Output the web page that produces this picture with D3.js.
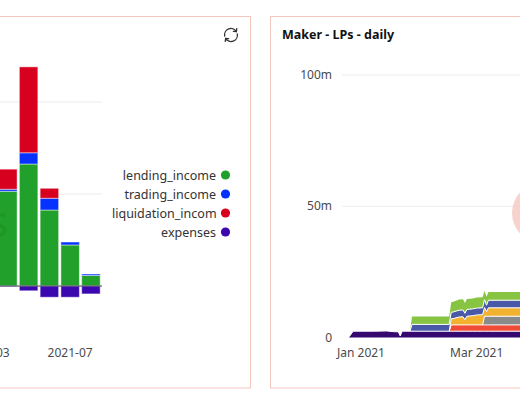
<!DOCTYPE html>
<html><head><meta charset="utf-8">
<script src="https://cdn.jsdelivr.net/npm/d3@7"></script>
<style>
body{margin:0;background:#fff;}
svg{display:block;font-family:"Noto Sans",sans-serif;}
</style>
</head><body>
<svg id="c" width="520" height="400"></svg>
<script>
// ---------- left panel: monthly revenue (stacked bars) ----------
const months = ["2021-03","2021-04","2021-05","2021-06","2021-07","2021-08"];
const monthTicks = ["2021-03","2021-07"];
const lendingIncome     = [4.6, 5.15, 6.63, 4.13, 2.23, 0.57];
const tradingIncome     = [0.1, 0.11, 0.61, 0.64, 0.16, 0.08];
const liquidationIncome = [0.8, 1.09, 4.67, 0.54, 0.0, 0.0];
const expenses          = [-0.05, -0.03, -0.26, -0.61, -0.61, -0.43];
const revenueSeries = ["lending_income","trading_income","liquidation_income","expenses"];
const revenueColors = ["#21a12b","#0532ff","#d7001e","#3b08b0"];
const revenueTicks = [0, 5, 10];

// ---------- right panel: Maker - LPs - daily (stacked area) ----------
const lpDates = ["2020-12-26","2020-12-28","2021-01-08","2021-01-14","2021-01-18","2021-01-20",
  "2021-01-21","2021-01-22","2021-01-26","2021-01-27","2021-02-15","2021-02-16","2021-02-17",
  "2021-02-20","2021-02-22","2021-02-23","2021-02-24","2021-02-27","2021-03-01","2021-03-04",
  "2021-03-05","2021-03-06","2021-03-07","2021-03-15","2021-03-28"];
const lpKeys = ["UNIV2DAIETH-A","UNIV2WBTCETH-A","UNIV2DAIUSDC-A","UNIV2ETHUSDT-A","UNIV2USDCETH-A","UNIV2UNIETH-A"];
const lpColors = ["#35096f","#ef4b36","#8a8a8a","#f2b12f","#4a58a8","#86c442"];
const lpPurple = [0.3,2.4,2.4,2.5,2.2,2.2,0.6,2.4,2.4,2.4,2.4,2.4,2.4,2.4,2.4,2.4,2.4,2.4,2.4,2.4,2.4,2.4,2.4,2.4,2.4];
const lpRed    = [0,0,0,0,0,0,0,0,0,0,0,2.4,2.4,2.4,2.4,2.4,2.4,2.4,2.4,2.4,2.4,2.4,2.4,2.4,2.4];
const lpGrey   = [0,0,0,0,0,0,0,0,0,0,0,0,0,0,0,0,0,0,0,0,3.3,3.3,3.3,3.3,3.3];
const lpOrange = [0,0,0,0,0,0,0,0,0,0,0,2.3,2.4,3.0,3.1,2.0,3.3,3.5,3.8,3.9,3.3,1.8,3.2,3.2,3.2];
const lpBlue   = [0,0,0,0,0,0,0,0,0,2.6,2.6,2.5,2.5,2.6,2.6,2.4,2.6,2.6,2.6,2.6,3.0,2.4,2.9,2.9,2.9];
const lpGreen  = [0,0,0,0,0,0,0,0,0,3.0,3.0,3.8,3.9,4.1,4.1,3.9,4.0,4.0,4.0,4.0,3.4,3.2,3.1,3.1,3.1];
const lpTicks = [0, 50, 100];
const lpDateTicks = ["2021-01-01","2021-03-01"];

const svg = d3.select("#c");
const defs = svg.append("defs");
const border = "#f4c6c0";

// ===== LEFT PANEL =====
defs.append("clipPath").attr("id","clipL").append("rect")
  .attr("x",-260).attr("y",16).attr("width",510).attr("height",372);
const L = svg.append("g").attr("clip-path","url(#clipL)");

const xb = d3.scaleBand().domain(months).range([-23.3, 101.3]).paddingInner(0.11).paddingOuter(0.055);
const yb = d3.scaleLinear().domain([0, 10]).range([286, 102]);
const plotLeft = -23.3, plotRight = 102;

L.append("g").selectAll("line").data(revenueTicks).join("line")
  .attr("x1", plotLeft).attr("x2", plotRight)
  .attr("y1", d => yb(d)).attr("y2", d => yb(d))
  .attr("stroke", "#ececec").attr("stroke-width", 1);

const rows = months.map((m, i) => ({
  month: m,
  lending_income: lendingIncome[i],
  trading_income: tradingIncome[i],
  liquidation_income: liquidationIncome[i],
  expenses: expenses[i]
}));
const stackB = d3.stack().keys(revenueSeries).offset(d3.stackOffsetDiverging)(rows);
L.append("g").selectAll("g").data(stackB).join("g")
  .attr("fill", (d, i) => revenueColors[i])
  .selectAll("rect").data(d => d).join("rect")
  .attr("x", d => xb(d.data.month))
  .attr("width", xb.bandwidth())
  .attr("y", d => yb(Math.max(d[0], d[1])))
  .attr("height", d => Math.abs(yb(d[0]) - yb(d[1])))
  .attr("stroke", "rgba(255,255,255,0.45)").attr("stroke-width", 1);

// zero line
L.append("line").attr("x1", plotLeft).attr("x2", plotRight)
  .attr("y1", yb(0)).attr("y2", yb(0)).attr("stroke", "#4a4560").attr("stroke-width", 1);

// watermark
L.append("text").attr("x", 8.5).attr("y", 237).attr("text-anchor","end")
  .attr("font-size", 44).attr("fill","#000").attr("opacity",0.06).text("Dune Analytics");

// x tick labels
L.append("g").selectAll("text").data(monthTicks).join("text")
  .attr("x", d => xb(d) + xb.bandwidth() / 2).attr("y", 356.5)
  .attr("text-anchor","middle").attr("font-size",12).attr("fill","#4a4a4a")
  .text(d => d);

// legend
defs.append("clipPath").attr("id","clipLeg").append("rect")
  .attr("x",100).attr("y",160).attr("width",116.5).attr("height",90);
const leg = L.append("g");
const legTextG = leg.append("g").attr("clip-path","url(#clipLeg)");
revenueSeries.forEach((s, i) => {
  const cy = 175 + i * 19;
  const t = legTextG.append("text").attr("x", 216).attr("y", cy + 4.5)
    .attr("text-anchor","end").attr("font-size",12.5).attr("fill","#333").text(s);
  const w = t.node().getComputedTextLength();
  if (w > 104) t.attr("x", 112).attr("text-anchor","start");
  leg.append("circle").attr("cx", 225.5).attr("cy", cy).attr("r", 4.6).attr("fill", revenueColors[i]);
});

// refresh icon
const ic = L.append("g").attr("transform","translate(231,35)")
  .attr("fill","none").attr("stroke","#333").attr("stroke-width",1.3).attr("stroke-linecap","round");
const r = 6.3;
ic.append("path").attr("d", `M${-r},1 A${r},${r} 0 0 1 ${r*0.85},${-r*0.53}`);
ic.append("path").attr("d", `M${r*0.85-3},${-r*0.53-0.3} L${r*0.85},${-r*0.53} L${r*0.85+0.4},${-r*0.53-3}`);
ic.append("path").attr("d", `M${r},-1 A${r},${r} 0 0 1 ${-r*0.85},${r*0.53}`);
ic.append("path").attr("d", `M${-r*0.85+3},${r*0.53+0.3} L${-r*0.85},${r*0.53} L${-r*0.85-0.4},${r*0.53+3}`);

svg.append("rect").attr("x",-260).attr("y",16.5).attr("width",510.5).attr("height",371.5)
  .attr("fill","none").attr("stroke",border).attr("stroke-width",1);

// ===== RIGHT PANEL =====
defs.append("clipPath").attr("id","clipR").append("rect")
  .attr("x",271).attr("y",17).attr("width",400).attr("height",371);
const R = svg.append("g").attr("clip-path","url(#clipR)");

R.append("text").attr("x", 282).attr("y", 38.5).attr("font-size",12.5)
  .attr("font-weight","bold").attr("fill","#111").text("Maker - LPs - daily");

const xa = d3.scaleUtc().domain([new Date(lpDateTicks[0]), new Date(lpDateTicks[1])]).range([361, 476.7]);
const ya = d3.scaleLinear().domain([0, 100]).range([337.5, 75]);

R.append("g").selectAll("line").data(lpTicks.filter(d => d > 0)).join("line")
  .attr("x1", 342).attr("x2", 700)
  .attr("y1", d => ya(d)).attr("y2", d => ya(d))
  .attr("stroke","#ececec").attr("stroke-width",1);

R.append("g").selectAll("text").data(lpTicks).join("text")
  .attr("x", 332).attr("y", d => ya(d)).attr("dy","0.35em")
  .attr("text-anchor","end").attr("font-size",12).attr("fill","#4a4a4a")
  .text(d => d === 0 ? "0" : d + "m");

const fmt = d3.utcFormat("%b %Y");
R.append("g").selectAll("text").data(lpDateTicks).join("text")
  .attr("x", d => xa(new Date(d))).attr("y", 357)
  .attr("text-anchor","middle").attr("font-size",12).attr("fill","#4a4a4a")
  .text(d => fmt(new Date(d)));

const lpSeries = [lpPurple, lpRed, lpGrey, lpOrange, lpBlue, lpGreen];
const lpRows = lpDates.map((d, i) => {
  const o = { date: new Date(d) };
  lpKeys.forEach((k, j) => o[k] = lpSeries[j][i]);
  return o;
});
const stackA = d3.stack().keys(lpKeys)(lpRows);
const area = d3.area().x(d => xa(d.data.date)).y0(d => ya(d[0])).y1(d => ya(d[1]));
R.append("g").selectAll("path").data(stackA).join("path")
  .attr("fill", (d, i) => lpColors[i]).attr("d", area);

// white separators on top edge of each visible layer
const topLine = (layer) => d3.line()
  .defined((d, i) => {
    const v = j => (j >= 0 && j < layer.length) ? layer[j][1] - layer[j][0] : 0;
    return v(i) > 0 || v(i - 1) > 0 || v(i + 1) > 0;
  })
  .x(d => xa(d.data.date)).y(d => ya(d[1]))(layer);
R.append("g").selectAll("path").data(stackA.slice(0, -1)).join("path")
  .attr("fill","none").attr("stroke","#fff").attr("stroke-width",1)
  .attr("d", d => topLine(d));

// floating pink button partially visible
R.append("circle").attr("cx",542).attr("cy",213).attr("r",30)
  .attr("fill","#f7cbc6").attr("opacity",0.85);

svg.append("rect").attr("x",270.5).attr("y",16.5).attr("width",400).attr("height",371.5)
  .attr("fill","none").attr("stroke",border).attr("stroke-width",1);
</script>
</body></html>
